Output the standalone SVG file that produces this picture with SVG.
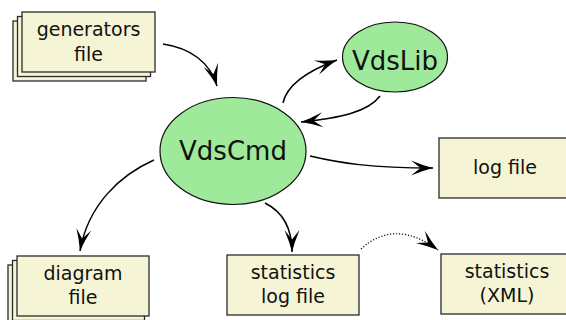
<svg xmlns="http://www.w3.org/2000/svg" width="566" height="320" viewBox="0 0 566 320">
  <style>
    .file { fill: #f5f5d6; stroke: #2a2a2a; stroke-width: 1.3; }
    .proc { fill: #9eea9a; stroke: #111; stroke-width: 1.2; }
    .lbl { font-family: "DejaVu Sans", "Noto Sans", sans-serif; font-size: 19px; fill: #111; text-anchor: middle; }
    .big { font-size: 26px; }
    .edge { fill: none; stroke: #000; stroke-width: 1.5; }
    .dotted { stroke-width: 1.2; stroke-dasharray: 1.2 1.8; }
  </style>
  <defs>
    <marker id="arrow" markerUnits="userSpaceOnUse" viewBox="-24 -9 26 18" refX="0" refY="0" markerWidth="26" markerHeight="18" orient="auto" overflow="visible">
      <path d="M0,0 Q-10,-2.5 -22,-7.5 L-12.5,0 L-22,7.5 Q-10,2.5 0,0 Z" fill="#000"/>
    </marker>
  </defs>

  <!-- connectors -->
  <g id="edges">
    <path class="edge" d="M163,44 C190,48 210,62 217,86" marker-end="url(#arrow)"/>
    <path class="edge" d="M283,103 C287,84 310,70 337,60" marker-end="url(#arrow)"/>
    <path class="edge" d="M380,96 C368,112 340,118 301,122" marker-end="url(#arrow)"/>
    <path class="edge" d="M310,156 C340,163 370,168 433,168" marker-end="url(#arrow)"/>
    <path class="edge" d="M154,160 C120,175 88,205 80,251" marker-end="url(#arrow)"/>
    <path class="edge" d="M265,203 C283,212 292,228 292,252" marker-end="url(#arrow)"/>
    <path class="edge dotted" d="M361,249 Q395,218 438,250" marker-end="url(#arrow)"/>
  </g>

  <!-- generators file (stacked) -->
  <g id="generators-file">
    <rect class="file" x="13" y="21" width="133" height="60"/>
    <rect class="file" x="17.5" y="16.5" width="133" height="60"/>
    <rect class="file" x="22" y="12" width="133" height="60"/>
    <text class="lbl" x="88.5" y="36">generators</text>
    <text class="lbl" x="88.5" y="61">file</text>
  </g>

  <!-- diagram file (stacked) -->
  <g id="diagram-file">
    <rect class="file" x="8" y="265" width="132" height="60"/>
    <rect class="file" x="12.5" y="260.5" width="132" height="60"/>
    <rect class="file" x="17" y="256" width="132" height="60"/>
    <text class="lbl" x="83" y="280">diagram</text>
    <text class="lbl" x="83" y="304">file</text>
  </g>

  <g id="vdscmd">
    <ellipse class="proc" cx="233" cy="151" rx="73" ry="53.5"/>
    <text class="lbl big" x="233" y="160">VdsCmd</text>
  </g>

  <g id="vdslib">
    <ellipse class="proc" cx="395" cy="57" rx="52.5" ry="35"/>
    <text class="lbl big" x="395" y="70">VdsLib</text>
  </g>

  <g id="log-file">
    <rect class="file" x="439" y="138" width="132" height="60"/>
    <text class="lbl" x="505" y="174">log file</text>
  </g>

  <g id="statistics-log-file">
    <rect class="file" x="227" y="255" width="132" height="60"/>
    <text class="lbl" x="293" y="279">statistics</text>
    <text class="lbl" x="293" y="303">log file</text>
  </g>

  <g id="statistics-xml">
    <rect class="file" x="441" y="254" width="132" height="60"/>
    <text class="lbl" x="507" y="278">statistics</text>
    <text class="lbl" x="507" y="302">(XML)</text>
  </g>
</svg>
